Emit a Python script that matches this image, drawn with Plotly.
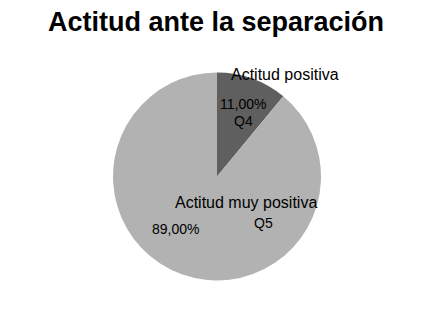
import plotly.graph_objects as go

categories = ["Q4", "Q5"]
names = ["Actitud positiva", "Actitud muy positiva"]
values = [11.0, 89.0]
pct_labels = ["11,00%", "89,00%"]
colors = ["#5f5f5f", "#b2b2b2"]

W, H = 444, 310
OFF = 8  # page body margin offset
fig = go.Figure(go.Pie(
    labels=categories, values=values, sort=False, direction="clockwise", rotation=0,
    marker=dict(colors=colors, line=dict(width=0)), textinfo="none", hoverinfo="label+percent",
    domain=dict(x=[105 / W, 313 / W], y=[1 - 273 / H, 1 - 64 / H]), showlegend=False,
))

def px(x, y):
    return (x - OFF) / W, 1 - (y - OFF) / H

big = dict(family="Liberation Sans, Arial, sans-serif", size=16, color="#000000")
small = dict(family="Liberation Sans, Arial, sans-serif", size=14, color="#000000")
ann = [
    (names[0], 285, 75, big),
    (pct_labels[0], 243, 104, small),
    (categories[0], 243.5, 121, small),
    (names[1], 246, 202, big),
    (categories[1], 263, 223, small),
    (pct_labels[1], 175, 229, small),
]
for t, x, y, f in ann:
    ax, ay = px(x, y)
    fig.add_annotation(text=t, x=ax, y=ay, xref="paper", yref="paper", showarrow=False,
                       xanchor="center", yanchor="middle", font=f)

tx, ty = px(216, 22)
fig.update_layout(
    width=W, height=H, margin=dict(l=0, r=0, t=0, b=0),
    paper_bgcolor="white", plot_bgcolor="white",
    title=dict(text="<b>Actitud ante la separación</b>", x=tx, xanchor="center",
               y=ty, yanchor="middle",
               font=dict(family="Liberation Sans, Arial, sans-serif", size=27, color="#000000")),
)
fig.write_html("out.html")
